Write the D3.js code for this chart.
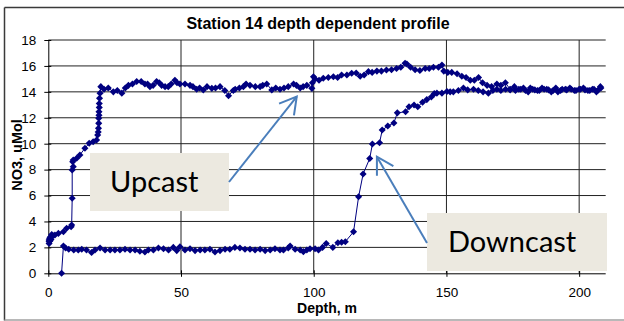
<!DOCTYPE html>
<html>
<head>
<meta charset="utf-8">
<script src="https://cdn.jsdelivr.net/npm/d3@7"></script>
<style>
  html, body { margin: 0; padding: 0; background: #fff; }
  svg { display: block; }
  text { font-family: "Liberation Sans", Arial, sans-serif; fill: #000; }
</style>
</head>
<body>
<script>
// Station 14 nitrate (NO3, uMol) against depth (m): downcast then upcast
const downDepth = [5.0,5.7,6.5,7.7,9.6,11.3,12.6,14.4,16.3,17.6,19.5,21.4,23.3,25.1,27.0,28.9,30.8,32.7,34.5,36.4,37.7,39.6,41.5,43.4,45.3,47.1,48.4,49.6,51.5,53.4,55.3,57.2,59.0,60.9,62.8,64.7,66.6,68.4,70.3,72.2,74.1,76.0,77.9,79.8,81.7,83.6,85.4,87.3,88.6,90.4,91.1,93.0,94.9,96.1,97.4,98.6,100.5,101.8,103.3,104.7,107.2,109.1,110.5,111.9,115.0,116.9,118.6,121.1,122.1,124.8,125.8,127.9,130.2,131.5,134.6,135.9,137.8,139.2,141.0,142.6,144.3,145.4,146.4,148.3,150.2,151.4,152.6,154.5,156.4,158.0,160.2,162.0,163.8,165.8,167.5,169.0,170.5,172.3,174.0,176.0,178.0,179.8,181.6,183.3,185.0,186.8,188.5,190.2,192.0,193.6,195.3,197.0,198.8,200.5,202.2,204.0,205.6,207.0,208.2];
const downNO3 = [0.0,2.1,1.95,1.85,1.8,1.8,1.85,1.8,1.6,1.8,1.95,1.8,1.8,1.8,1.8,1.85,1.8,1.8,1.7,1.65,1.8,1.8,1.95,1.9,1.8,2.0,1.75,2.05,1.8,1.9,1.75,1.8,1.8,1.85,1.65,1.75,1.85,1.85,2.0,1.95,1.85,1.85,1.8,1.85,1.75,1.8,1.9,1.8,1.8,1.95,2.1,1.85,1.8,1.67,1.8,1.9,1.9,1.8,2.0,2.3,2.0,2.36,2.4,2.44,3.2,5.9,7.66,8.86,9.97,10.07,11.05,11.36,11.6,12.38,12.46,12.85,12.98,12.85,13.2,13.4,13.6,13.86,13.9,13.9,14.03,14.0,14.0,14.1,14.3,14.15,14.2,14.1,14.0,13.9,14.1,14.2,14.1,14.2,14.15,14.1,14.2,14.1,14.3,14.15,14.1,14.2,14.15,14.1,14.0,14.2,14.15,14.2,14.1,14.2,14.15,14.1,14.2,14.1,14.3];

const upDepth = [208.0,206.5,205.0,203.3,201.6,200.0,198.2,196.5,194.8,193.0,191.2,189.5,187.8,186.0,184.3,182.5,180.8,179.0,177.3,175.6,174.0,172.2,170.5,169.0,167.0,165.3,163.6,162.1,160.5,159.0,157.4,155.8,154.0,152.0,150.5,149.0,148.3,147.0,145.1,143.5,142.0,140.0,138.2,136.5,135.1,134.4,132.8,131.2,129.3,127.4,125.5,123.8,122.0,120.6,119.0,117.5,116.0,114.3,112.5,110.5,109.0,107.4,105.5,103.6,102.0,100.5,99.9,99.5,99.3,97.4,96.0,94.9,93.5,92.4,90.4,88.8,87.3,85.7,84.2,82.3,80.8,79.8,78.0,76.0,74.5,73.5,72.0,70.4,69.7,67.9,66.5,64.7,63.0,61.6,59.8,58.4,57.0,55.9,54.5,53.4,51.5,49.6,48.5,47.7,46.3,45.2,44.0,42.7,41.8,40.8,39.5,38.3,37.4,36.4,35.0,33.3,31.7,30.2,29.0,27.7,26.0,24.5,22.6,21.0,19.8,19.5,19.3,19.2,19.2,19.1,19.1,19.0,19.0,18.9,18.8,18.6,18.2,16.9,15.4,13.8,11.9,10.7,9.4,9.2,9.4,9.0,9.0,8.8,8.6,6.9,5.7,3.8,2.5,1.3,0.8,0.3,0.3,0.6,1.0,1.8,0.5,0.3];
const upNO3 = [14.4,14.0,14.2,14.1,14.3,14.2,14.1,14.3,14.2,14.1,14.3,14.0,14.2,14.3,14.1,14.2,14.0,14.3,14.2,14.4,14.2,14.7,14.5,14.6,14.4,14.5,14.7,15.1,14.9,14.9,15.1,15.2,15.4,15.5,15.5,15.6,16.07,15.9,15.9,15.8,15.8,15.65,15.7,15.9,16.15,16.2,15.9,15.8,15.7,15.69,15.6,15.6,15.5,15.56,15.3,15.2,15.45,15.43,15.3,15.3,15.1,15.17,15.1,15.05,14.9,15.0,15.17,14.7,14.27,14.5,14.4,14.3,14.5,14.6,14.4,14.3,14.2,14.3,14.15,14.6,14.5,14.4,14.4,14.5,14.6,14.4,14.3,14.2,14.1,13.7,14.1,14.4,14.3,14.27,14.4,14.14,14.3,14.2,14.4,14.5,14.6,14.6,14.7,14.9,14.6,14.4,14.4,14.5,14.7,14.8,14.5,14.4,14.6,14.6,14.8,14.8,14.6,14.5,14.3,13.9,14.1,14.0,14.3,14.2,14.4,13.9,13.5,13.1,12.8,12.47,12.2,11.96,11.57,11.19,10.9,10.67,10.29,10.15,10.03,9.65,9.13,8.87,8.74,8.6,8.23,7.97,5.79,3.73,3.6,3.47,3.21,3.08,2.96,3.0,2.8,2.57,2.3,2.5,2.6,2.9,2.7,2.45];

const xTicks = [0, 50, 100, 150, 200];
const yTicks = [0, 2, 4, 6, 8, 10, 12, 14, 16, 18];
const chartTitle = "Station 14 depth dependent profile";
const xTitle = "Depth, m";
const yTitle = "NO3, uMol";

// Callout boxes (pixel layout) with arrows pointing at a depth/NO3 location
const callouts = [
  { label: "Upcast",   box: [90, 153, 139, 58],  textAt: [110, 192], from: [229, 182], tipDepth: 93.6,  tipNO3: 13.63 },
  { label: "Downcast", box: [427, 213, 180, 58], textAt: [448, 252], from: [427, 243], tipDepth: 123.8, tipNO3: 9.0 }
];

const W = 624, H = 321;
const plot = { left: 48.3, right: 605.7, top: 40, bottom: 273.3 };

const x = d3.scaleLinear().domain([0, 210]).range([plot.left, plot.right]);
const y = d3.scaleLinear().domain([0, 18]).range([plot.bottom, plot.top]);

const svg = d3.select("body").append("svg").attr("width", W).attr("height", H);

// Chart frame
svg.append("line").attr("x1", 4.5).attr("x2", W).attr("y1", 7.5).attr("y2", 7.5)
  .attr("stroke", "#3a3a3a").attr("stroke-width", 1.5);
svg.append("line").attr("x1", 4.5).attr("x2", 4.5).attr("y1", 7.5).attr("y2", 320.5)
  .attr("stroke", "#3a3a3a").attr("stroke-width", 1.5);
svg.append("line").attr("x1", 4.5).attr("x2", W).attr("y1", 320).attr("y2", 320)
  .attr("stroke", "#a0a0a0").attr("stroke-width", 1.5);

// Gridlines
svg.append("g").selectAll("line").data(yTicks.filter(d => d > 0)).join("line")
  .attr("x1", plot.left).attr("x2", plot.right)
  .attr("y1", d => y(d)).attr("y2", d => y(d))
  .attr("stroke", "#222").attr("stroke-width", 1);
svg.append("g").selectAll("line").data(xTicks.filter(d => d > 0)).join("line")
  .attr("x1", d => x(d)).attr("x2", d => x(d))
  .attr("y1", plot.top).attr("y2", plot.bottom)
  .attr("stroke", "#222").attr("stroke-width", 1);

// Axes
const xAxis = svg.append("g").attr("transform", `translate(0,${plot.bottom})`)
  .call(d3.axisBottom(x).tickValues(xTicks).tickSize(3.5).tickPadding(10.5).tickSizeOuter(0));
xAxis.selectAll(".tick line").attr("y1", -3);
const yAxis = svg.append("g").attr("transform", `translate(${plot.left},0)`)
  .call(d3.axisLeft(y).tickValues(yTicks).tickSize(4).tickPadding(8).tickSizeOuter(0));
yAxis.selectAll(".tick line").attr("x1", 3);
[xAxis, yAxis].forEach(g => {
  g.select(".domain").attr("stroke", "#000").attr("stroke-width", 1);
  g.selectAll(".tick line").attr("stroke", "#000");
  g.selectAll("text").style("font-family", '"Liberation Sans", Arial, sans-serif')
    .style("font-size", "13.5px").attr("fill", "#000");
});
yAxis.select(".domain").attr("d", `M0.5,${plot.bottom}V${plot.top}`);
xAxis.select(".domain").attr("d", `M${plot.left},0.5H${plot.right}`);

// Titles
svg.append("text").attr("x", 318).attr("y", 29).attr("text-anchor", "middle")
  .style("font-size", "16px").style("font-weight", "bold").text(chartTitle);
svg.append("text").attr("x", 327).attr("y", 313).attr("text-anchor", "middle")
  .style("font-size", "14px").style("font-weight", "bold").text(xTitle);
svg.append("text").attr("transform", "translate(22,155) rotate(-90)").attr("text-anchor", "middle")
  .style("font-size", "14.5px").style("font-weight", "bold").text(yTitle);

// Series: one continuous profile, downcast followed by upcast
const pts = downDepth.map((d, i) => [d, downNO3[i]])
  .concat(upDepth.map((d, i) => [d, upNO3[i]]));

svg.append("path").datum(pts)
  .attr("fill", "none").attr("stroke", "#000080").attr("stroke-width", 1)
  .attr("d", d3.line().x(d => x(d[0])).y(d => y(d[1])));

const diamond = {
  draw(ctx, size) {
    const r = Math.sqrt(size / 2);
    ctx.moveTo(0, -r); ctx.lineTo(r, 0); ctx.lineTo(0, r); ctx.lineTo(-r, 0); ctx.closePath();
  }
};
svg.append("g").selectAll("path").data(pts).join("path")
  .attr("transform", d => `translate(${x(d[0])},${y(d[1])})`)
  .attr("d", d3.symbol().type(diamond).size(25))
  .attr("fill", "#000080");

// Callouts
const arrowColor = "#4a7ebb";
callouts.forEach(c => {
  const [bx, by, bw, bh] = c.box;
  svg.append("rect").attr("x", bx).attr("y", by).attr("width", bw).attr("height", bh)
    .attr("fill", "#ece9e0");
  svg.append("text").attr("x", c.textAt[0]).attr("y", c.textAt[1])
    .style("font-family", "Lato, 'Open Sans', sans-serif").style("font-size", "29px")
    .attr("fill", "#111").text(c.label);

  const tx = x(c.tipDepth), ty = y(c.tipNO3);
  const [fx, fy] = c.from;
  svg.append("line").attr("x1", fx).attr("y1", fy).attr("x2", tx).attr("y2", ty)
    .attr("stroke", arrowColor).attr("stroke-width", 2);
  const ang = Math.atan2(fy - ty, fx - tx), len = 19, spread = Math.PI / 6;
  const head = [ang - spread, ang + spread].map(a => [tx + len * Math.cos(a), ty + len * Math.sin(a)]);
  svg.append("path")
    .attr("d", `M${head[0][0]},${head[0][1]}L${tx},${ty}L${head[1][0]},${head[1][1]}`)
    .attr("fill", "none").attr("stroke", arrowColor).attr("stroke-width", 2)
    .attr("stroke-linejoin", "miter");
});
</script>
</body>
</html>
